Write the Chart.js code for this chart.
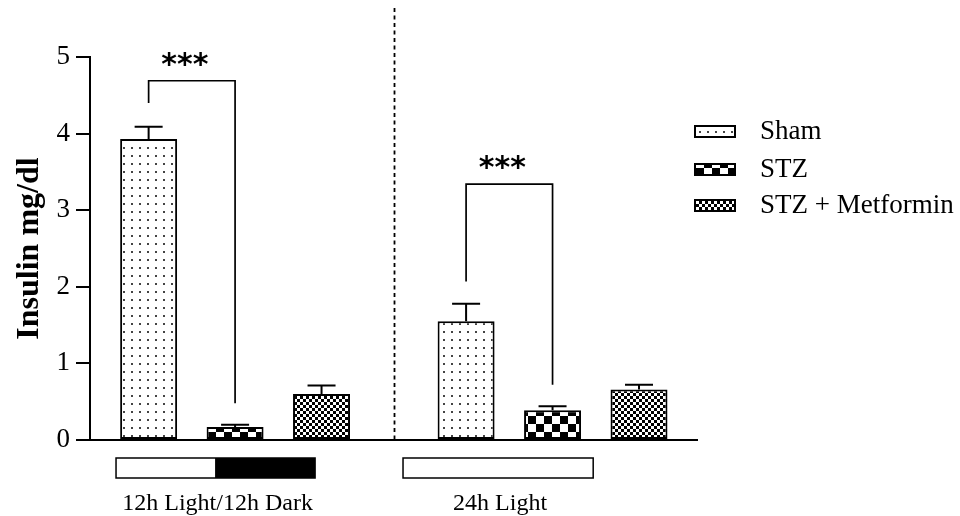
<!DOCTYPE html>
<html>
<head>
<meta charset="utf-8">
<script src="https://cdn.jsdelivr.net/npm/chart.js@4.4.1/dist/chart.umd.min.js"></script>
<style>
  html, body { margin: 0; padding: 0; background: #fff; }
  #wrap { width: 960px; height: 516px; }
</style>
</head>
<body>
<div id="wrap"><canvas id="c" width="960" height="516"></canvas></div>
<script>
// ---------- DATA ----------
const groups = ["12h Light/12h Dark", "24h Light"];
const seriesNames = ["Sham", "STZ", "STZ + Metformin"];
const shamVals = [3.93, 1.55];
const shamErr = [0.16, 0.23];
const stzVals = [0.17, 0.39];
const stzErr = [0.03, 0.05];
const metVals = [0.60, 0.66];
const metErr = [0.11, 0.06];
const yTicks = [0, 1, 2, 3, 4, 5];

// significance brackets (Sham vs STZ in each group)
const sigTop = [4.69, 3.34];
const sigLeftEnd = [4.40, 2.07];
const sigRightEnd = [0.48, 0.72];
const sigLabel = ["***", "***"];

const vals = [shamVals, stzVals, metVals];
const errs = [shamErr, stzErr, metErr];

// ---------- LAYOUT (x in group units) ----------
const X_MIN = -0.457, X_MAX = 1.455;
const stripFrom = [-0.375, 0.529];
const stripTo = [0.252, 1.128];
const stripDarkFrom = [-0.063, null];
const SERIF = "'Liberation Serif', 'Times New Roman', serif";

// ---------- PATTERNS ----------
const canvas = document.getElementById("c");
const mainCtx = canvas.getContext("2d");

function tile(size, draw) {
  const t = document.createElement("canvas");
  t.width = t.height = size;
  const c = t.getContext("2d");
  c.fillStyle = "#fff"; c.fillRect(0, 0, size, size);
  draw(c);
  return mainCtx.createPattern(t, "repeat");
}
const dots = tile(8, c => { c.fillStyle = "#444"; c.fillRect(3, 3, 2, 2); });
const bigCheck = tile(16, c => { c.fillStyle = "#000"; c.fillRect(0, 0, 8, 8); c.fillRect(8, 8, 8, 8); });
const smallCheck = tile(6, c => { c.fillStyle = "#000"; c.fillRect(0, 0, 3, 3); c.fillRect(3, 3, 3, 3); });
const fills = [dots, bigCheck, smallCheck];

// ---------- EXTRA DRAWING ----------
const extras = {
  id: "extras",
  afterDatasetsDraw(chart) {
    const { ctx, chartArea, scales: { x, y } } = chart;
    ctx.save();
    ctx.strokeStyle = "#000";
    ctx.fillStyle = "#000";

    // error bars (upper only)
    ctx.lineWidth = 2;
    errs.forEach((arr, s) => {
      chart.getDatasetMeta(s).data.forEach((bar, g) => {
        const top = y.getPixelForValue(vals[s][g]);
        const hi = y.getPixelForValue(vals[s][g] + arr[g]);
        ctx.beginPath();
        ctx.moveTo(bar.x, top); ctx.lineTo(bar.x, hi);
        ctx.moveTo(bar.x - 14, hi); ctx.lineTo(bar.x + 14, hi);
        ctx.stroke();
      });
    });

    // dashed divider between groups
    ctx.lineWidth = 1.8;
    ctx.setLineDash([4, 3.5]);
    const dx = Math.round(x.getPixelForValue(0.5)) + 0.5;
    ctx.beginPath();
    ctx.moveTo(dx, y.getPixelForValue(5.64));
    ctx.lineTo(dx, chartArea.bottom);
    ctx.stroke();
    ctx.setLineDash([]);

    // significance brackets
    ctx.lineWidth = 1.7;
    sigTop.forEach((t, g) => {
      const lx = chart.getDatasetMeta(0).data[g].x;
      const rx = chart.getDatasetMeta(1).data[g].x;
      const ty = y.getPixelForValue(t);
      ctx.beginPath();
      ctx.moveTo(lx, y.getPixelForValue(sigLeftEnd[g]));
      ctx.lineTo(lx, ty);
      ctx.lineTo(rx, ty);
      ctx.lineTo(rx, y.getPixelForValue(sigRightEnd[g]));
      ctx.stroke();
      ctx.font = "bold 30px 'DejaVu Sans', sans-serif";
      ctx.textAlign = "center";
      ctx.textBaseline = "alphabetic";
      ctx.fillText(sigLabel[g], (lx + rx) / 2 - 7, ty - 7);
    });

    // light/dark strips and group labels
    ctx.lineWidth = 1.5;
    groups.forEach((name, g) => {
      const x0 = x.getPixelForValue(stripFrom[g]);
      const x1 = x.getPixelForValue(stripTo[g]);
      const sy = chartArea.bottom + 18;
      if (stripDarkFrom[g] !== null) {
        const xd = x.getPixelForValue(stripDarkFrom[g]);
        ctx.fillRect(xd, sy, x1 - xd, 20);
      }
      ctx.strokeRect(x0, sy, x1 - x0, 20);
      ctx.font = "24px " + SERIF;
      ctx.textAlign = "center";
      ctx.textBaseline = "alphabetic";
      ctx.fillText(name, (x0 + x1) / 2 + 2, chartArea.bottom + 70);
    });

    // legend
    const rowY = [131, 169, 205];
    seriesNames.forEach((name, s) => {
      const bx = chartArea.right - 2, by = rowY[s] - 5;
      ctx.fillStyle = fills[s];
      ctx.fillRect(bx, by, 40, 11);
      ctx.lineWidth = 2;
      ctx.strokeRect(bx, by, 40, 11);
      ctx.fillStyle = "#000";
      ctx.font = "27px " + SERIF;
      ctx.textAlign = "left";
      ctx.textBaseline = "middle";
      ctx.fillText(name, bx + 65, rowY[s] + 1);
    });
    ctx.restore();
  }
};

// ---------- CHART ----------
new Chart(canvas, {
  type: "bar",
  data: {
    datasets: seriesNames.map((name, s) => ({
      label: name,
      data: vals[s].map((v, g) => ({ x: g, y: v })),
      backgroundColor: fills[s],
      borderColor: "#000",
      borderWidth: 2,
      borderSkipped: false,
      categoryPercentage: 0.817,
      barPercentage: 0.659,
    }))
  },
  options: {
    responsive: false,
    animation: false,
    devicePixelRatio: 1,
    layout: { padding: { top: 57, right: 263, left: 0, bottom: 0 } },
    plugins: { legend: { display: false }, tooltip: { enabled: false } },
    scales: {
      x: {
        type: "linear",
        min: X_MIN, max: X_MAX,
        offset: false,
        grid: { display: false },
        border: { display: true, color: "#000", width: 2 },
        ticks: { display: false },
        afterBuildTicks: s => { s.ticks = groups.map((g, i) => ({ value: i })); },
        afterFit: s => { s.height = 76; }
      },
      y: {
        min: 0, max: 5,
        afterBuildTicks: s => { s.ticks = yTicks.map(v => ({ value: v })); },
        grid: { drawOnChartArea: false, drawTicks: true, tickLength: 14, color: "#000", lineWidth: 2 },
        border: { display: true, color: "#000", width: 2 },
        ticks: { color: "#000", padding: 6, font: { family: SERIF, size: 27 } },
        title: {
          display: true, text: "Insulin mg/dl", color: "#000",
          font: { family: SERIF, size: 32, weight: "bold" },
          padding: { top: 11, bottom: 0 }
        },
        afterFit: s => { s.width = 90; }
      }
    }
  },
  plugins: [extras]
});
</script>
</body>
</html>
